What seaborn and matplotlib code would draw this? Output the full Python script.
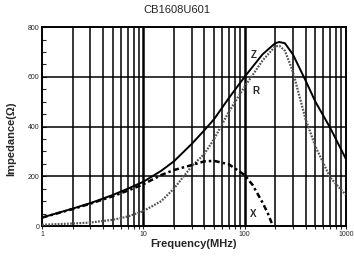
import numpy as np
import pandas as pd
import seaborn as sns
import matplotlib.pyplot as plt
from matplotlib.ticker import FixedLocator, NullFormatter, MultipleLocator

# valores (MHz, ohm)
freq_z = [1, 2, 3, 5, 7, 10, 15, 20, 30, 40, 50, 70, 100, 150, 200, 220, 250, 300, 400, 500, 700, 1000]
z_vals = [34, 70, 92, 125, 150, 178, 222, 260, 330, 385, 430, 515, 600, 690, 735, 740, 735, 690, 585, 500, 395, 270]
r_vals = [5, 10, 14, 25, 38, 60, 100, 150, 240, 290, 350, 460, 560, 665, 722, 725, 705, 620, 430, 320, 195, 125]

freq_x = [1, 2, 3, 5, 7, 10, 15, 20, 30, 40, 50, 70, 100, 120, 150, 170, 190]
x_vals = [34, 68, 90, 120, 142, 168, 205, 225, 245, 260, 262, 248, 205, 165, 95, 50, 0]

dz = pd.DataFrame({"f": freq_z, "Z": z_vals, "R": r_vals})
dx = pd.DataFrame({"f": freq_x, "X": x_vals})

sns.set_style("white")
plt.rcParams['font.family'] = ['Liberation Sans', 'DejaVu Sans']

fig = plt.figure(figsize=(3.54, 2.58), dpi=100)
ax = fig.add_axes([0.119, 0.124, 0.858, 0.771])

sns.lineplot(data=dz, x="f", y="Z", ax=ax, color="black", linewidth=1.4, zorder=4)
sns.lineplot(data=dz, x="f", y="R", ax=ax, color="#555555", linewidth=1.6,
             linestyle=(0, (0.8, 0.6)), zorder=4)
sns.lineplot(data=dx, x="f", y="X", ax=ax, color="black", linewidth=1.8,
             linestyle=(0, (2.2, 1.2, 1, 1.2)), zorder=4)

ax.set_xscale("log")
ax.set_xlim(1, 1000)
ax.set_ylim(0, 800)

# rejilla: decadas gruesas, resto finas
minors = [m * 10 ** d for d in range(3) for m in range(2, 10)]
for v in minors:
    ax.axvline(v, color="black", linewidth=1.1, zorder=1)
for v in [10, 100]:
    ax.axvline(v, color="black", linewidth=1.8, zorder=1)
for v in [200, 400, 600]:
    ax.axhline(v, color="black", linewidth=1.1, zorder=1)

ax.xaxis.set_major_locator(FixedLocator([1, 10, 100, 1000]))
ax.xaxis.set_minor_locator(FixedLocator(minors))
ax.xaxis.set_minor_formatter(NullFormatter())
ax.set_xticklabels(["1", "10", "100", "1000"])
ax.yaxis.set_major_locator(MultipleLocator(200))
ax.yaxis.set_minor_locator(MultipleLocator(50))

ax.tick_params(axis="x", which="both", direction="out", length=2.5, width=0.8,
               labelsize=5, pad=1, bottom=True)
ax.tick_params(axis="y", which="both", direction="in", length=3, width=0.8,
               labelsize=5, pad=2, left=True)

for s in ax.spines.values():
    s.set_color("black")
    s.set_linewidth(1.4)

fig.text(0.5, 0.96, "CB1608U601", fontsize=8, ha="center", va="center")
ax.set_xlabel("Frequency(MHz)", fontsize=8, fontweight="bold", labelpad=1)
ax.set_ylabel("Impedance(Ω)", fontsize=8, fontweight="bold")
ax.yaxis.set_label_coords(-0.085, 0.44)

ax.text(114, 675, "Z", fontsize=7, fontweight="bold", zorder=5)
ax.text(120, 530, "R", fontsize=7, fontweight="bold", zorder=5)
ax.text(114, 36, "X", fontsize=7, fontweight="bold", zorder=5)

fig.savefig("out.png", dpi=100)
